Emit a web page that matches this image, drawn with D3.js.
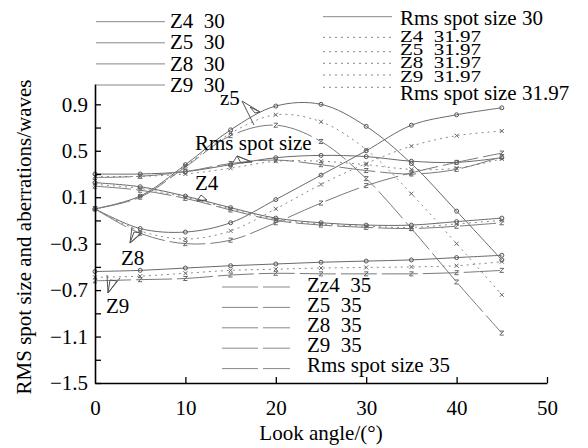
<!DOCTYPE html>
<html>
<head>
<meta charset="utf-8">
<script src="https://cdn.jsdelivr.net/npm/d3@7"></script>
<style>
  body { margin: 0; background: #fff; }
  svg { display: block; font-family: "Liberation Serif", "Times New Roman", serif; }
  text { white-space: pre; }
</style>
</head>
<body>
<svg width="588" height="448"></svg>
<script>
// look angles (deg)
const angles = [0, 5, 10, 15, 20, 25, 30, 35, 40, 45];

// values, one array per curve
const z4_30    = [0.225, 0.19, 0.11, 0.01, -0.08, -0.12, -0.14, -0.14, -0.11, -0.08];
const z5_30    = [0.0, 0.11, 0.38, 0.68, 0.885, 0.90, 0.71, 0.39, -0.02, -0.44];
const z8_30    = [0.0, -0.17, -0.20, -0.12, 0.08, 0.29, 0.50, 0.72, 0.81, 0.87];
const z9_30    = [-0.54, -0.53, -0.51, -0.49, -0.475, -0.46, -0.45, -0.44, -0.42, -0.40];
const rms_30   = [0.30, 0.30, 0.32, 0.38, 0.44, 0.46, 0.45, 0.41, 0.40, 0.44];

const z4_3197  = [0.21, 0.175, 0.10, 0.00, -0.09, -0.13, -0.15, -0.16, -0.13, -0.10];
const z5_3197  = [0.0, 0.11, 0.37, 0.65, 0.81, 0.75, 0.51, 0.13, -0.30, -0.74];
const z8_3197  = [0.0, -0.19, -0.26, -0.19, 0.0, 0.21, 0.39, 0.54, 0.63, 0.67];
const z9_3197  = [-0.59, -0.58, -0.555, -0.53, -0.52, -0.51, -0.505, -0.50, -0.49, -0.455];
const rms_3197 = [0.28, 0.28, 0.30, 0.35, 0.41, 0.41, 0.38, 0.34, 0.35, 0.43];

const z4_35    = [0.195, 0.16, 0.09, -0.01, -0.10, -0.14, -0.16, -0.17, -0.15, -0.12];
const z5_35    = [0.0, 0.10, 0.36, 0.63, 0.72, 0.58, 0.26, -0.17, -0.63, -1.07];
const z8_35    = [0.0, -0.21, -0.30, -0.27, -0.12, 0.05, 0.20, 0.31, 0.40, 0.48];
const z9_35    = [-0.62, -0.61, -0.60, -0.57, -0.555, -0.56, -0.56, -0.56, -0.55, -0.53];
const rms_35   = [0.27, 0.28, 0.32, 0.39, 0.42, 0.38, 0.33, 0.30, 0.34, 0.45];

const xTicks = [0, 10, 20, 30, 40, 50];
const yTicks = [0.9, 0.7, 0.5, 0.3, 0.1, -0.1, -0.3, -0.5, -0.7, -0.9, -1.1, -1.3, -1.5];
const yLabelTicks = [0.9, 0.5, 0.1, -0.3, -0.7, -1.1, -1.5];

const legend30   = ["Z4  30", "Z5  30", "Z8  30", "Z9  30"];
const legend3197 = ["Rms spot size 30", "Z4  31.97", "Z5  31.97", "Z8  31.97", "Z9  31.97", "Rms spot size 31.97"];
const legend35   = ["Zz4  35", "Z5  35", "Z8  35", "Z9  35", "Rms spot size 35"];

// series table: style 0 = solid (30), 1 = dotted (31.97), 2 = dashed (35)
const series = [
  [z4_30, 0], [z5_30, 0], [z8_30, 0], [z9_30, 0], [rms_30, 0],
  [z4_3197, 1], [z5_3197, 1], [z8_3197, 1], [z9_3197, 1], [rms_3197, 1],
  [z4_35, 2], [z5_35, 2], [z8_35, 2], [z9_35, 2], [rms_35, 2]
];

const svg = d3.select("svg");
const x = d3.scaleLinear().domain([0, 50]).range([95, 547]);
const y = d3.scaleLinear().domain([-1.5, 1.075]).range([383, 84]);

const dash = ["none", "2,4", "36,5"];
const lineCol = ["#6a6a6a", "#8a8a8a", "#7a7a7a"];

let line = d3.line()
  .x((d, i) => x(angles[i]))
  .y(d => y(d))
  .curve(d3.curveCatmullRom.alpha(0.5));

let plot = svg.append("g");
series.forEach(function(s) {
  plot.append("path")
    .attr("d", line(s[0]))
    .attr("fill", "none")
    .attr("stroke", lineCol[s[1]])
    .attr("stroke-width", 1)
    .attr("stroke-dasharray", dash[s[1]]);
});

// little markers on every point
function marker(g, style, cx, cy) {
  if (style == 0) {
    g.append("circle").attr("cx", cx).attr("cy", cy).attr("r", 2)
      .attr("fill", "none").attr("stroke", "#555").attr("stroke-width", 1);
  } else if (style == 1) {
    g.append("path").attr("d", `M${cx-2},${cy-2}L${cx+2},${cy+2}M${cx-2},${cy+2}L${cx+2},${cy-2}`)
      .attr("stroke", "#666").attr("stroke-width", 1);
  } else {
    g.append("path").attr("d", `M${cx-2},${cy-2}L${cx+2},${cy-2}L${cx-2},${cy+2}L${cx+2},${cy+2}`)
      .attr("fill", "none").attr("stroke", "#666").attr("stroke-width", 1);
  }
}
series.forEach(function(s) {
  s[0].forEach(function(v, i) { marker(plot, s[1], x(angles[i]), y(v)); });
});

// axes
let yAxis = d3.axisLeft(y).tickValues(yTicks).tickSizeInner(-6).tickSizeOuter(0).tickPadding(7)
  .tickFormat(d => yLabelTicks.some(t => Math.abs(t - d) < 1e-6) ? d3.format(".1f")(d).replace("-", "\u2212") : "");
let xAxis = d3.axisBottom(x).tickValues(xTicks).tickSizeInner(-6).tickSizeOuter(0).tickPadding(17)
  .tickFormat(d3.format("d"));

let gy = svg.append("g").attr("transform", "translate(95,0)").call(yAxis);
let gx = svg.append("g").attr("transform", "translate(0,383)").call(xAxis);
[gx, gy].forEach(function(g) {
  g.select(".domain").attr("stroke", "#000").attr("stroke-width", 1.6);
  g.selectAll(".tick line").attr("stroke", "#000").attr("stroke-width", 1.3);
  g.selectAll(".tick text").attr("font-size", 21).attr("fill", "#000")
    .attr("font-family", "Liberation Serif");
});
gx.select(".tick line").remove();

svg.append("text")
  .attr("transform", "translate(31,237) rotate(-90)")
  .attr("text-anchor", "middle").attr("font-size", 21)
  .text("RMS spot size and aberrations/waves");
svg.append("text")
  .attr("x", 321).attr("y", 440)
  .attr("text-anchor", "middle").attr("font-size", 21)
  .text("Look angle/(\u00b0)");

// legends
let lg = svg.append("g");
legend30.forEach(function(t, i) {
  let ly = 21.7 + i * 21.1;
  lg.append("line").attr("x1", 96).attr("x2", 165).attr("y1", ly).attr("y2", ly)
    .attr("stroke", "#888").attr("stroke-width", 1);
  lg.append("text").attr("x", 170).attr("y", ly + 6.6).attr("font-size", 21).text(t);
});
// the 31.97 block is packed tight in the original, glyphs look squashed
const rightLineY = [16.7, 37.3, 51.7, 63.3, 75, 87.3];
const rightTextY = [25, 41.7, 55, 68.3, 81.7, 100];
legend3197.forEach(function(t, i) {
  lg.append("line").attr("x1", 323).attr("x2", 392).attr("y1", rightLineY[i]).attr("y2", rightLineY[i])
    .attr("stroke", "#888").attr("stroke-width", 1)
    .attr("stroke-dasharray", i == 0 ? "none" : "2,4");
  lg.append("text")
    .attr("transform", `translate(400,${rightTextY[i]}) scale(1,${i == 0 || i == 5 ? 1 : 0.82})`)
    .attr("font-size", 21).text(t);
});
legend35.forEach(function(t, i) {
  let ly = 287 + i * 20.4;
  lg.append("line").attr("x1", 222).attr("x2", 290).attr("y1", ly).attr("y2", ly)
    .attr("stroke", "#888").attr("stroke-width", 1).attr("stroke-dasharray", "36,5");
  lg.append("text").attr("x", 307).attr("y", 291.7 + i * 20).attr("font-size", 21).text(t);
});

// curve annotations with their little arrow marks
let an = svg.append("g").attr("stroke", "#555").attr("stroke-width", 1).attr("fill", "none");
function note(label, tx, ty, from, tips, tri) {
  svg.append("text").attr("x", tx).attr("y", ty).attr("font-size", 21).text(label);
  tips.forEach(p => an.append("line").attr("x1", from[0]).attr("y1", from[1]).attr("x2", p[0]).attr("y2", p[1]));
  an.append("polygon").attr("points", tri.map(p => p.join(",")).join(" "));
}
note("z5", 220, 105, [242, 101], [[260, 112], [254, 125]], [[250, 107], [260, 112], [255, 113]]);
note("Rms spot size", 195, 150, [237, 156], [[252, 162], [232, 164]], [[237, 156], [252, 162], [241, 163]]);
note("Z4", 195, 190, [197, 201], [[207, 200]], [[197, 201], [201, 195], [207, 200]]);
note("Z8", 121, 265, [130, 243], [[132, 227], [142, 233]], [[130, 243], [134, 232], [141, 233]]);
note("Z9", 106, 313, [108, 293], [[107, 275], [120, 278]], [[108, 293], [110, 280], [117, 281]]);
</script>
</body>
</html>
